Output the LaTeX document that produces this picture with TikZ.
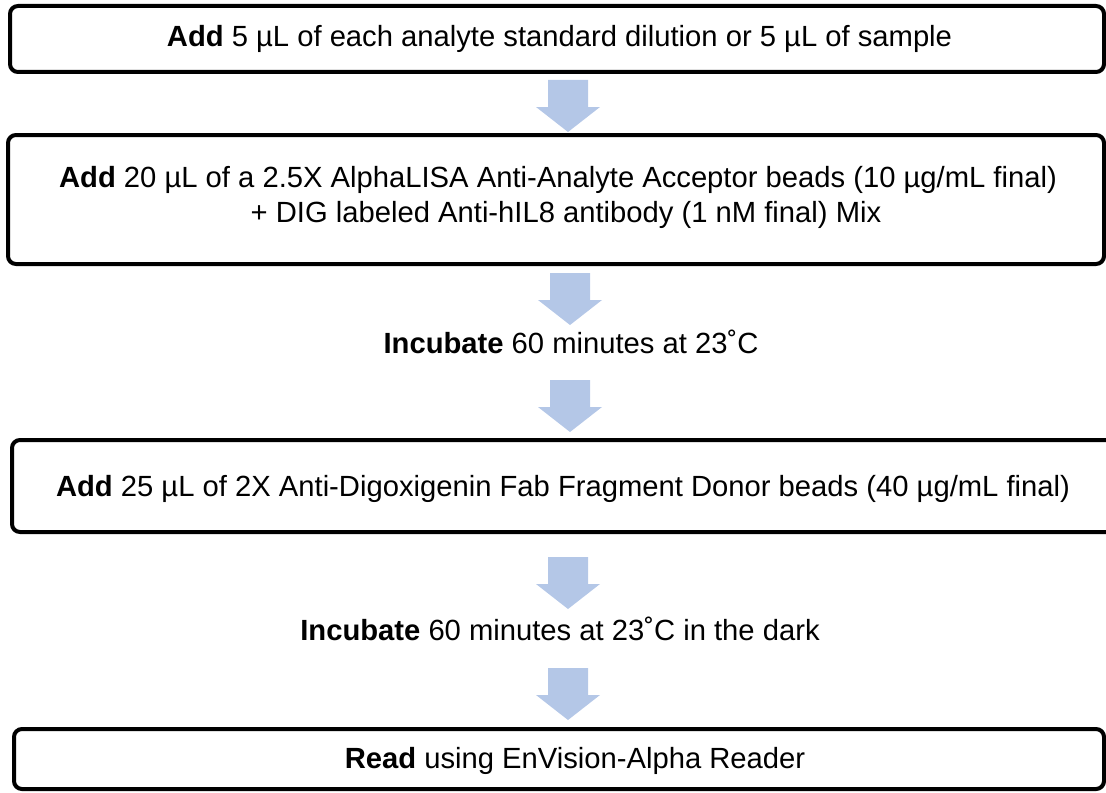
\documentclass[tikz,border=0pt]{standalone}
\usepackage{fontspec}
\setmainfont{Liberation Sans}
\definecolor{arrowblue}{RGB}{180,199,231}
\tikzset{
  stepbox/.style={draw, line width=2pt, rounded corners=4pt, inner sep=0pt},
  steptext/.style={anchor=base, inner sep=0pt, font=\fontsize{14.6}{17.5}\selectfont},
}
% block arrow: #1 = x of centre, #2 = y of top
\newcommand{\flowarrow}[2]{%
  \fill[arrowblue] (#1-20,#2) -- (#1+20,#2) -- (#1+20,#2+27) -- (#1+32,#2+27)
    -- (#1,#2+52) -- (#1-32,#2+27) -- (#1-20,#2+27) -- cycle;}

\begin{document}
\begin{tikzpicture}[x=0.5pt,y=-0.5pt]
  \useasboundingbox (0,0) rectangle (1106,792);
  \begin{scope}
    \clip (0,0) rectangle (1106,792);
    \node[stepbox, minimum width=547pt, minimum height=33pt] (box1) at (557,39) {};
    \node[stepbox, minimum width=548pt, minimum height=64.5pt] (box2) at (556,199.5) {};
    \node[stepbox, minimum width=552pt, minimum height=46pt] (box3) at (564,486) {};
    \node[stepbox, minimum width=545pt, minimum height=30pt] (box4) at (559,759) {};
  \end{scope}

  \node[steptext] (txt1) at (559.5,47) {\textbf{Add} 5 µL of each analyte standard dilution or 5 µL of sample};
  \node[steptext] (txt2a) at (558,187) {\textbf{Add} 20 µL of a 2.5X AlphaLISA Anti-Analyte Acceptor beads (10 µg/mL final)};
  \node[steptext] (txt2b) at (566,222) {+ DIG labeled Anti-hIL8 antibody (1 nM final) Mix};
  \node[steptext] (inc1) at (571,353) {\textbf{Incubate} 60 minutes at 23˚C};
  \node[steptext] (txt3) at (563,496) {\textbf{Add} 25 µL of 2X Anti-Digoxigenin Fab Fragment Donor beads (40 µg/mL final)};
  \node[steptext] (inc2) at (560,640) {\textbf{Incubate} 60 minutes at 23˚C in the dark};
  \node[steptext] (txt4) at (575,768) {\textbf{Read} using EnVision-Alpha Reader};

  \flowarrow{568}{80}
  \flowarrow{570}{273}
  \flowarrow{570}{380}
  \flowarrow{568}{557}
  \flowarrow{568}{668}
\end{tikzpicture}
\end{document}
